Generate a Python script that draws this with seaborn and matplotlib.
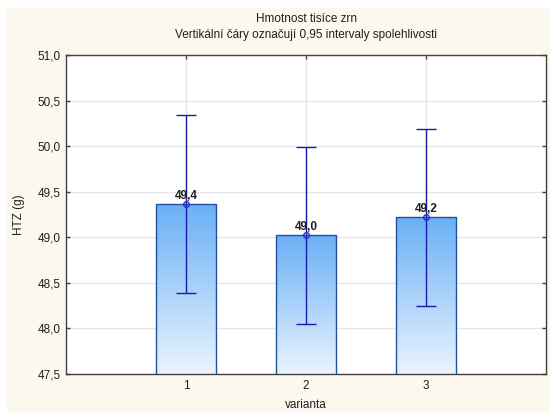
import numpy as np
import pandas as pd
import matplotlib
matplotlib.use("Agg")
import matplotlib.pyplot as plt
import seaborn as sns
from matplotlib.colors import LinearSegmentedColormap
from matplotlib.patches import Rectangle

categories = ["1", "2", "3"]
means = [49.365, 49.02, 49.22]
ci_lower = [48.39, 48.05, 48.25]
ci_upper = [50.34, 49.99, 50.19]
labels = ["49,4", "49,0", "49,2"]
yticks = [47.5, 48.0, 48.5, 49.0, 49.5, 50.0, 50.5, 51.0]
ytick_labels = ["47,5", "48,0", "48,5", "49,0", "49,5", "50,0", "50,5", "51,0"]

sns.set_theme(style="white")
plt.rcParams["font.family"] = ["Liberation Sans", "DejaVu Sans"]

df = pd.DataFrame({"varianta": categories, "HTZ": means})

fig = plt.figure(figsize=(5.52, 4.12), dpi=100)
fig.patch.set_facecolor("white")
fig.patches.append(Rectangle((7 / 552, 0), 543 / 552, 404 / 412, transform=fig.transFigure,
                             facecolor="#FCF8EE", edgecolor="none", zorder=-10))
ax = fig.add_axes([66 / 552, 1 - 374 / 412, 480 / 552, 319 / 412])
ax.set_facecolor("white")

sns.barplot(data=df, x="varianta", y="HTZ", width=0.5, errorbar=None,
            color="#70B4F8", edgecolor="#2050A0", linewidth=1.0, ax=ax, zorder=2)

ax.set_ylim(47.5, 51.0)
ax.set_xlim(-1, 3)

cmap = LinearSegmentedColormap.from_list("g", ["#EAF4FE", "#6AB0F6"])
grad = np.linspace(0, 1, 256).reshape(-1, 1)
for p in list(ax.patches):
    x0, y0 = p.get_x(), p.get_y()
    w, h = p.get_width(), p.get_height()
    y_bot = 47.5
    im = ax.imshow(grad, cmap=cmap, origin="lower", aspect="auto",
                   extent=[x0, x0 + w, y_bot, y0 + h], zorder=1.5)
    im.set_clip_path(p)
    p.set_facecolor("none")

ax.set_xlim(-1, 3)
ax.set_ylim(47.5, 51.0)

xs = np.arange(len(categories))
means_a = np.array(means)
yerr = np.vstack([means_a - np.array(ci_lower), np.array(ci_upper) - means_a])
ax.errorbar(xs, means_a, yerr=yerr, fmt="none", ecolor="#1A1AAA", elinewidth=1.0,
            capsize=7, capthick=1.0, zorder=4)
ax.plot(xs, means_a, linestyle="none", marker="o", markersize=4,
        markerfacecolor="none", markeredgecolor="#2233CC", markeredgewidth=1.0, zorder=5)

for x, m, lab in zip(xs, means, labels):
    ax.text(x, m + 0.025, lab, ha="center", va="bottom", fontsize=8.5,
            fontweight="bold", color="#202020", zorder=6)

ax.set_yticks(yticks)
ax.set_yticklabels(ytick_labels)
ax.set_xticks(xs)
ax.set_xticklabels(categories)
ax.grid(True, color="#E6E6E6", linewidth=1.0, zorder=0)
ax.set_axisbelow(True)
ax.tick_params(axis="both", direction="in", length=3, width=1, color="#404040",
               labelsize=8.5, labelcolor="#202020", top=True, right=True,
               left=True, bottom=True, pad=4)
for s in ax.spines.values():
    s.set_visible(True)
    s.set_color("#404040")
    s.set_linewidth(1.0)

ax.set_xlabel("varianta", fontsize=8.5, color="#202020", labelpad=5)
ax.set_ylabel("HTZ (g)", fontsize=8.5, color="#202020", labelpad=9)
ax.set_title("Hmotnost tisíce zrn\nVertikální čáry označují 0,95 intervaly spolehlivosti",
             fontsize=8.5, color="#202020", pad=12, linespacing=1.45)

fig.savefig("out.png", dpi=100)
